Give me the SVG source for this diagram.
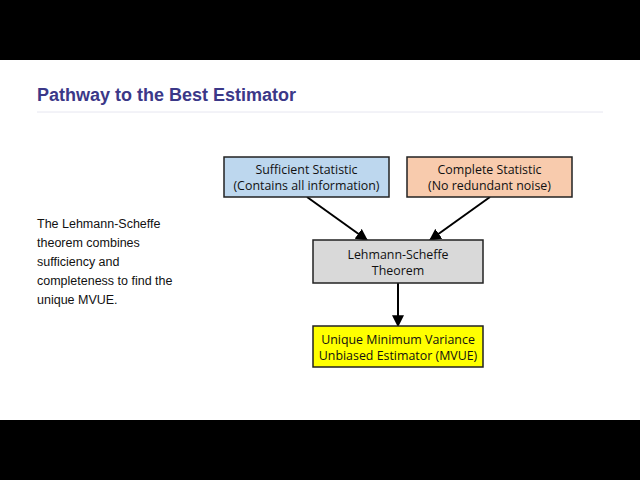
<svg xmlns="http://www.w3.org/2000/svg" width="640" height="480" viewBox="0 0 640 480">
<defs>
<style>
.box{stroke:#222;stroke-width:1.5}
.bt{font-family:"Open Sans","Liberation Sans",sans-serif;font-size:12.4px;fill:#111;text-anchor:middle}
.lt{font-family:"Liberation Sans",Arial,sans-serif;font-size:12.5px;fill:#111}
.edge{stroke:#000;stroke-width:2;fill:none;marker-end:url(#ah)}
</style>
<marker id="ah" viewBox="0 0 10 10" refX="9" refY="5" markerWidth="6" markerHeight="6" orient="auto" markerUnits="strokeWidth">
<path d="M0,0 L10,5 L0,10 Z" fill="#000"/>
</marker>
</defs>
<rect x="0" y="0" width="640" height="480" fill="#fff"/>
<rect x="0" y="0" width="640" height="60" fill="#000"/>
<rect x="0" y="420" width="640" height="60" fill="#000"/>
<g id="title">
<text x="37" y="101" font-family="Liberation Sans,Arial,sans-serif" font-size="18" font-weight="bold" fill="#3b3888">Pathway to the Best Estimator</text>
<line x1="37" y1="112" x2="603" y2="112" stroke="#e6e6f0" stroke-width="1"/>
</g>
<g id="description">
<text class="lt" x="37" y="228">The Lehmann-Scheffe</text>
<text class="lt" x="37" y="247">theorem combines</text>
<text class="lt" x="37" y="266">sufficiency and</text>
<text class="lt" x="37" y="285">completeness to find the</text>
<text class="lt" x="37" y="304">unique MVUE.</text>
</g>
<g id="connectors">
<line class="edge" x1="307" y1="197" x2="367" y2="240"/>
<line class="edge" x1="490" y1="197" x2="430" y2="240"/>
<line class="edge" x1="398" y1="283" x2="398" y2="326"/>
</g>
<g id="sufficient">
<rect class="box" x="224" y="157" width="165" height="40" fill="#bdd7ee"/>
<text class="bt" x="306.5" y="174">Sufficient Statistic</text>
<text class="bt" x="306.5" y="190">(Contains all information)</text>
</g>
<g id="complete">
<rect class="box" x="407" y="157" width="165" height="40" fill="#f8cbad"/>
<text class="bt" x="489.5" y="174">Complete Statistic</text>
<text class="bt" x="489.5" y="190">(No redundant noise)</text>
</g>
<g id="lehmann">
<rect class="box" x="313" y="240" width="170" height="43" fill="#d9d9d9"/>
<text class="bt" x="398" y="259">Lehmann-Scheffe</text>
<text class="bt" x="398" y="275">Theorem</text>
</g>
<g id="mvue">
<rect class="box" x="313" y="326" width="170" height="41" fill="#ffff00"/>
<text class="bt" x="398" y="344">Unique Minimum Variance</text>
<text class="bt" x="398" y="360">Unbiased Estimator (MVUE)</text>
</g>
</svg>
